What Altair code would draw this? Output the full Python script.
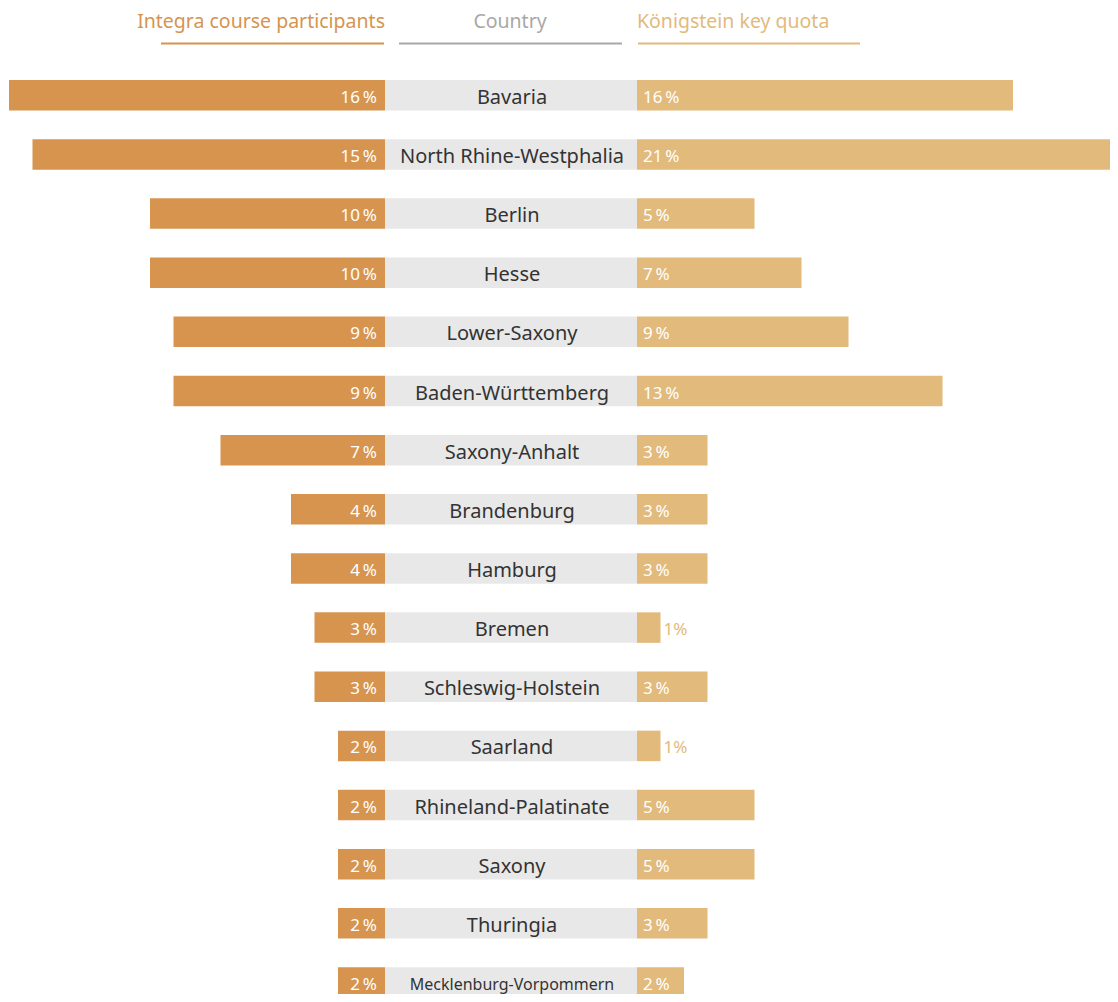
import altair as alt
import pandas as pd

countries = ["Bavaria", "North Rhine-Westphalia", "Berlin", "Hesse", "Lower-Saxony",
             "Baden-Württemberg", "Saxony-Anhalt", "Brandenburg", "Hamburg", "Bremen",
             "Schleswig-Holstein", "Saarland", "Rhineland-Palatinate", "Saxony",
             "Thuringia", "Mecklenburg-Vorpommern"]
participants = [16, 15, 10, 10, 9, 9, 7, 4, 4, 3, 3, 2, 2, 2, 2, 2]
quota = [16, 21, 5, 7, 9, 13, 3, 3, 3, 1, 3, 1, 5, 5, 3, 2]
headers = ["Integra course participants", "Country", "Königstein key quota"]

ORANGE = "#D6944F"
LIGHT = "#E2BA7C"
GRAY_BAND = "#E8E8E8"
GRAY_HEAD = "#A8A8A8"
TEXT = "#333333"
FONT = "Noto Sans"

df = pd.DataFrame({
    "row": list(range(len(countries))),
    "country": countries,
    "part": participants,
    "quota": quota,
})

STEP = 59.15
H = 986
d0 = -87.25 / STEP
d1 = d0 + H / STEP
yscale = alt.Scale(domain=[d0, d1], reverse=True, nice=False, zero=False)
PX = 23.5
DY = 2.5
HALF = 15.25 / STEP

LW, CW, RW = 377, 252, 473

base = alt.Chart(df).transform_calculate(
    y0=f"datum.row - {HALF}", y1=f"datum.row + {HALF}", zero="0"
)

# ---------- left panel ----------
xl = alt.Scale(domain=[0, LW / PX], reverse=True, nice=False, zero=False)
left_bars = base.mark_bar(color=ORANGE, clip=True).encode(
    x=alt.X("part:Q", scale=xl, axis=None), x2="zero:Q",
    y=alt.Y("y0:Q", scale=yscale, axis=None), y2="y1:Q")
left_text = base.transform_calculate(lab="datum.part + '\u2009%'").mark_text(
    align="right", baseline="middle", dx=-8, dy=DY, color="white", font=FONT, fontSize=17
).encode(x=alt.X("zero:Q", scale=xl, axis=None),
         y=alt.Y("row:Q", scale=yscale, axis=None), text="lab:N")
hdr_l = alt.Chart(pd.DataFrame({"t": [headers[0]]})).mark_text(
    align="right", baseline="middle", color=ORANGE, font=FONT, fontSize=19.5
).encode(x=alt.value(377), y=alt.value(14), text="t:N")
rule_l = alt.Chart(pd.DataFrame({"t": [headers[0]]})).mark_rule(
    color=ORANGE, strokeWidth=2).encode(x=alt.value(153), x2=alt.value(376), y=alt.value(35.5))
left = alt.layer(left_bars, left_text, hdr_l, rule_l).properties(width=LW, height=H)

# ---------- center panel ----------
band = base.mark_bar(color=GRAY_BAND, clip=True).encode(
    x=alt.value(0), x2=alt.value(CW),
    y=alt.Y("y0:Q", scale=yscale, axis=None), y2="y1:Q")
names = base.mark_text(baseline="middle", align="center", dy=DY, color=TEXT, font=FONT).encode(
    x=alt.value(CW / 2 + 1), y=alt.Y("row:Q", scale=yscale, axis=None), text="country:N",
    size=alt.condition("datum.country == 'Mecklenburg-Vorpommern'", alt.value(16), alt.value(20)))
hdr_c = alt.Chart(pd.DataFrame({"t": [headers[1]]})).mark_text(
    align="center", baseline="middle", color=GRAY_HEAD, font=FONT, fontSize=19.5
).encode(x=alt.value(125), y=alt.value(14), text="t:N")
rule_c = alt.Chart(pd.DataFrame({"t": [headers[1]]})).mark_rule(
    color=GRAY_HEAD, strokeWidth=2).encode(x=alt.value(14), x2=alt.value(237), y=alt.value(35.5))
center = alt.layer(band, names, hdr_c, rule_c).properties(width=CW, height=H)

# ---------- right panel ----------
xr = alt.Scale(domain=[0, RW / PX], nice=False, zero=False)
right_bars = base.mark_bar(color=LIGHT, clip=True).encode(
    x=alt.X("quota:Q", scale=xr, axis=None), x2="zero:Q",
    y=alt.Y("y0:Q", scale=yscale, axis=None), y2="y1:Q")
right_in = base.transform_filter("datum.quota > 1").transform_calculate(
    lab="datum.quota + '\u2009%'").mark_text(
    align="left", baseline="middle", dx=6, dy=DY, color="white", font=FONT, fontSize=17
).encode(x=alt.X("zero:Q", scale=xr, axis=None),
         y=alt.Y("row:Q", scale=yscale, axis=None), text="lab:N")
right_out = base.transform_filter("datum.quota <= 1").transform_calculate(
    lab="datum.quota + '%'").mark_text(
    align="left", baseline="middle", dx=3, dy=DY, color=LIGHT, font=FONT, fontSize=17
).encode(x=alt.X("quota:Q", scale=xr, axis=None),
         y=alt.Y("row:Q", scale=yscale, axis=None), text="lab:N")
hdr_r = alt.Chart(pd.DataFrame({"t": [headers[2]]})).mark_text(
    align="left", baseline="middle", color=LIGHT, font=FONT, fontSize=19.5
).encode(x=alt.value(0), y=alt.value(14), text="t:N")
rule_r = alt.Chart(pd.DataFrame({"t": [headers[2]]})).mark_rule(
    color=LIGHT, strokeWidth=2).encode(x=alt.value(1), x2=alt.value(223), y=alt.value(35.5))
right = alt.layer(right_bars, right_in, right_out, hdr_r, rule_r).properties(width=RW, height=H)

chart = alt.hconcat(left, center, right, spacing=0, bounds="flush").properties(
    padding=0
).configure_view(stroke=None).configure_concat(spacing=0)

chart.save("out.html", embed_options={"renderer": "svg", "actions": False})
